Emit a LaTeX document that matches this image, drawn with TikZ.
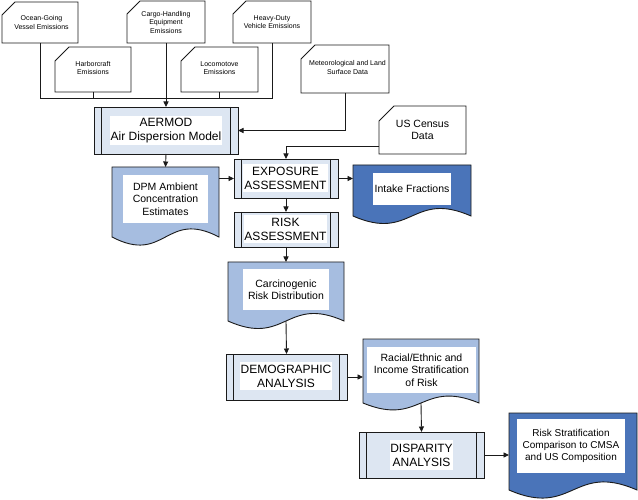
\documentclass[tikz,border=0pt]{standalone}
\usepackage{fontspec}
\setmainfont{Liberation Sans}
\usetikzlibrary{arrows.meta,calc}
\definecolor{lightfill}{HTML}{DDE6F2}
\definecolor{midfill}{HTML}{A6BDE0}
\definecolor{darkfill}{HTML}{4A74B9}
\definecolor{edge}{HTML}{1A1A1A}
\newcommand\fsS{\fontsize{7}{8.5}\selectfont}
\newcommand\fsM{\fontsize{10.5}{12.3}\selectfont}
\newcommand\fsR{\fontsize{10}{12.3}\selectfont}
\newcommand\fsL{\fontsize{12}{14}\selectfont}
\tikzset{
  line/.style={draw=edge, line width=0.9pt},
  arr/.style={line, -{Triangle[length=5.5pt,width=5pt]}},
  holder/.style={inner sep=0pt, outer sep=0pt, draw=none, align=center},
  tbox/.style={fill=white, inner sep=0pt, outer sep=0pt, align=center},
}
% holder node: name, x0, y0, x1, y1, font, text
\newcommand\holder[7]{\node[holder, font=#6, minimum width={#4-#2}, minimum height={#5-#3}] (#1) at ({(#2+#4)/2},{(#3+#5)/2}) {#7};}
% card shape: x0,y0,x1,y1,cut
\newcommand\cardpath[5]{\draw[line, fill=white] ({#1+#5},#2) -- (#3,#2) -- (#3,#4) -- (#1,#4) -- (#1,{#2+#5}) -- cycle;}
% process shape: x0,y0,x1,y1
\newcommand\procpath[4]{\draw[line, fill=lightfill] (#1,#2) rectangle (#3,#4);
  \draw[line] ({#1+7.5},#2) -- ({#1+7.5},#4) ({#3-7.5},#2) -- ({#3-7.5},#4);}
% document shape: x0,y0,x1,ym,c,fill
\newcommand\docpath[6]{\draw[line, fill=#6] (#1,#2) -- (#3,#2) -- (#3,#4) .. controls ({(#1+#3)/2},{#4-#5}) and ({(#1+#3)/2},{#4+#5}) .. (#1,#4) -- cycle;}
% text box: name, cx, cy, w, h, font, text
\newcommand\tbox[7]{\node[tbox, font=#6, minimum width=#4, minimum height=#5] (#1) at (#2,#3) {#7};}
\begin{document}
\begin{tikzpicture}[x=1pt,y=-1pt]
\useasboundingbox (0,0) rectangle (638,500);
% source cards
\cardpath{2}{2}{78}{43}{13}
\holder{ocean}{2}{2}{78}{43}{\fsS}{\hspace*{3pt}Ocean-Going\\\hspace*{3pt}Vessel Emissions}
\cardpath{127}{1}{205}{43}{13}
\holder{cargo}{127}{1}{205}{43}{\fsS}{Cargo-Handling\\Equipment\\Emissions}
\cardpath{233}{1}{311}{43}{13}
\holder{heavy}{233}{1}{311}{43}{\fsS}{Heavy-Duty\\Vehicle Emissions}
\cardpath{55}{47}{131}{92}{14}
\holder{harbor}{55}{47}{131}{92}{\fsS}{Harborcraft\\Emissions\vspace*{3pt}}
\cardpath{181}{47}{258}{92}{14}
\holder{loco}{181}{47}{258}{92}{\fsS}{Locomotove\\Emissions\vspace*{3pt}}
\cardpath{301}{45}{389}{93}{14}
\holder{meteo}{301}{45}{389}{93}{\fsS}{\hspace*{5pt}Meteorological and Land\\\hspace*{5pt}Surface Data\vspace*{3pt}}
\cardpath{379}{106}{466}{154}{15}
\holder{census}{379}{106}{466}{154}{\fsM}{US Census\\Data}
% AERMOD
\procpath{94}{107}{238}{154}
\holder{aermod}{94}{107}{238}{154}{\fsL}{}
\tbox{aermod-t}{166}{130.5}{112}{29}{\fsL}{AERMOD\\Air Dispersion Model}
% DPM
\docpath{112}{167}{219}{237}{28}{midfill}
\holder{dpm}{112}{167}{219}{237}{\fsM}{}
\tbox{dpm-t}{165.5}{199}{85}{48}{\fsM}{DPM Ambient\\Concentration\\Estimates}
% Exposure
\procpath{234}{159}{338}{198}
\holder{expo}{234}{159}{338}{198}{\fsL}{}
\tbox{expo-t}{285.5}{178}{85}{28}{\fsL}{EXPOSURE\\ASSESSMENT}
% Intake
\docpath{353}{165}{471}{216}{26}{darkfill}
\holder{intake}{353}{165}{471}{216}{\fsM}{}
\tbox{intake-t}{412}{189}{78}{32}{\fsM}{Intake Fractions}
% Risk
\procpath{234}{212}{338}{247}
\holder{risk}{234}{212}{338}{247}{\fsL}{}
\tbox{risk-t}{285.5}{229}{83}{28}{\fsL}{RISK\\ASSESSMENT}
% Carcinogenic
\docpath{228}{262}{344}{321}{26}{midfill}
\holder{carc}{228}{262}{344}{321}{\fsM}{}
\tbox{carc-t}{286}{289.5}{86}{41}{\fsM}{Carcinogenic\\Risk Distribution}
% Demographic
\procpath{226}{354}{347}{400}
\holder{demo}{226}{354}{347}{400}{\fsL}{}
\tbox{demo-t}{286}{376}{92}{28}{\fsL}{DEMOGRAPHIC\\ANALYSIS}
% Racial
\docpath{363}{339}{479}{403}{24}{midfill}
\holder{racial}{363}{339}{479}{403}{\fsM}{}
\tbox{racial-t}{421.5}{370}{109}{46}{\fsM}{Racial/Ethnic and\\Income Stratification\\of Risk}
% Disparity
\procpath{359}{432}{484}{478}
\holder{disp}{359}{432}{484}{478}{\fsL}{}
\tbox{disp-t}{421.5}{455}{63}{30}{\fsL}{DISPARITY\\ANALYSIS}
% Risk stratification
\docpath{509}{413}{637}{490}{28}{darkfill}
\holder{rstrat}{509}{413}{637}{490}{\fsR}{}
\tbox{rstrat-t}{571}{446}{108}{54}{\fsR}{Risk Stratification\\Comparison to CMSA\\and US Composition}
% connectors
\coordinate (bus) at (166,98);
\draw[line] (ocean.south) |- (heavy.south |- bus) -- (heavy.south);
\draw[line] (harbor.south) -- (harbor.south |- bus);
\draw[line] (loco.south) -- (loco.south |- bus);
\draw[arr] (cargo.south) -- (aermod.north);
\draw[arr] (meteo.south) |- (aermod.east);
\draw[arr] ([yshift=8pt]census.south west) -| (expo.north);
\draw[arr] (aermod.south) -- (dpm.north);
\draw[arr] (expo.west -| dpm.east) -- (expo.west);
\draw[arr] (expo.east) -- (expo.east -| intake.west);
\draw[arr] (expo.south) -- (risk.north);
\draw[arr] (risk.south) -- (carc.north);
\draw[arr] (carc.south) -- (demo.north);
\draw[arr] (demo.east) -- (demo.east -| racial.west);
\draw[arr] (racial.south) -- (disp.north);
\draw[arr] (disp.east) -- (disp.east -| rstrat.west);
\end{tikzpicture}
\end{document}
